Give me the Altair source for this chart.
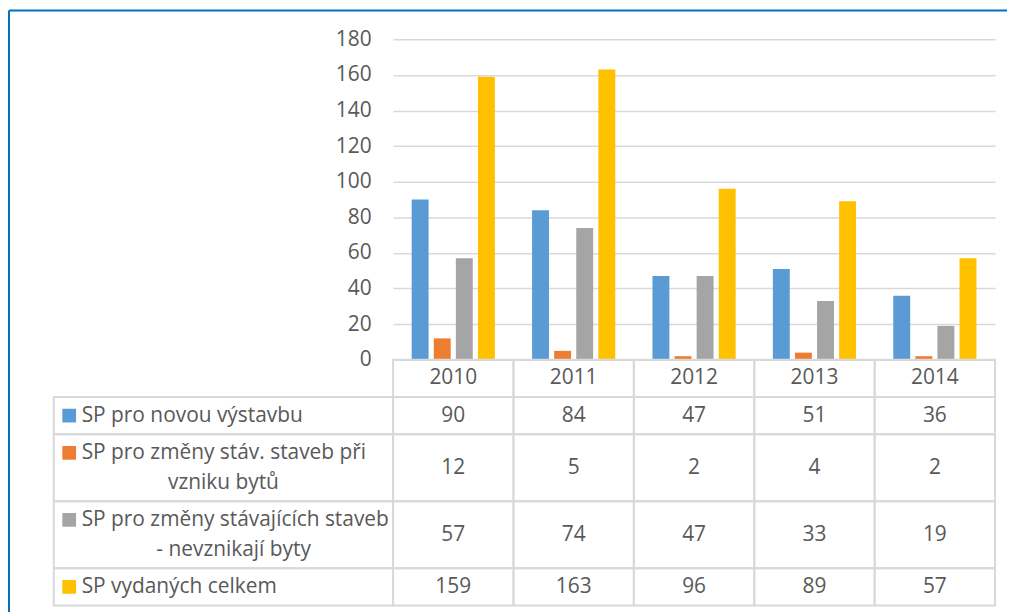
import altair as alt
import pandas as pd

# ---- data ----
years = ["2010", "2011", "2012", "2013", "2014"]
series_names = [
    "SP pro novou výstavbu",
    "SP pro změny stáv. staveb při vzniku bytů",
    "SP pro změny stávajících staveb - nevznikají byty",
    "SP vydaných celkem",
]
label_lines = [
    ["SP pro novou výstavbu"],
    ["SP pro změny stáv. staveb při", "vzniku bytů"],
    ["SP pro změny stávajících staveb", "- nevznikají byty"],
    ["SP vydaných celkem"],
]
nova_vystavba = [90, 84, 47, 51, 36]
zmeny_s_byty = [12, 5, 2, 4, 2]
zmeny_bez_bytu = [57, 74, 47, 33, 19]
celkem = [159, 163, 96, 89, 57]
y_ticks = [0, 20, 40, 60, 80, 100, 120, 140, 160, 180]
colors = ["#5B9BD5", "#ED7D31", "#A5A5A5", "#FFC000"]

series_values = [nova_vystavba, zmeny_s_byty, zmeny_bez_bytu, celkem]

# ---- layout constants ----
W, H = 605, 322          # bar plot area
TABLE_H = 247            # data table height below the plot
LABEL_W = 341            # width of the table's label column
ROW_UNITS = [1, 1, 1.8, 1.8, 1]   # header + 4 series rows
LINE_GAP = 0.4           # half distance between wrapped lines, in row units
TEXT_COLOR = "#595959"
GRID_COLOR = "#D9D9D9"
FONT = "Open Sans"
FS = 21

bounds = [0]
for u in ROW_UNITS:
    bounds.append(bounds[-1] + u)
TOTAL_UNITS = bounds[-1]

# ---- frames ----
bars_df = pd.DataFrame(
    [
        {"year": y, "series": s, "value": vals[i]}
        for s, vals in zip(series_names, series_values)
        for i, y in enumerate(years)
    ]
)

cells_df = pd.DataFrame(
    [
        {"year": y, "top": bounds[r], "bot": bounds[r + 1]}
        for y in years
        for r in range(len(ROW_UNITS))
    ]
)

header_df = pd.DataFrame(
    [{"year": y, "ymid": (bounds[0] + bounds[1]) / 2} for y in years]
)

values_df = pd.DataFrame(
    [
        {"year": y, "label": str(vals[i]), "ymid": (bounds[k + 1] + bounds[k + 2]) / 2}
        for k, vals in enumerate(series_values)
        for i, y in enumerate(years)
    ]
)

# label column: x measured in column fractions (0 = left edge, 1 = right edge)
label_cells_df = pd.DataFrame(
    [{"c0": 0, "c1": 1, "top": bounds[k + 1], "bot": bounds[k + 2]} for k in range(4)]
)

# wrapped second lines are centred under the first line
SECOND_LINE_CENTER = {1: 0.5, 2: 0.53}

first_lines, second_lines = [], []
for k, (name, lines) in enumerate(zip(series_names, label_lines)):
    mid = (bounds[k + 1] + bounds[k + 2]) / 2
    if len(lines) == 1:
        first_lines.append({"c0": 0, "series": name, "text": lines[0], "yl": mid})
    else:
        first_lines.append({"c0": 0, "series": name, "text": lines[0], "yl": mid - LINE_GAP})
        second_lines.append({"c0": SECOND_LINE_CENTER[k], "series": name,
                             "text": lines[1], "yl": mid + LINE_GAP})
first_df = pd.DataFrame(first_lines)
second_df = pd.DataFrame(second_lines)

# ---- scales ----
x_years = alt.X(
    "year:N",
    scale=alt.Scale(domain=years, paddingInner=0, paddingOuter=0),
    axis=None,
)


def y_table(f):
    return alt.Y(
        f,
        scale=alt.Scale(domain=[0, TOTAL_UNITS], range=[H, H + TABLE_H], nice=False, zero=False),
        axis=None,
    )


def x_label(f):
    return alt.X(
        f,
        scale=alt.Scale(domain=[0, 1], range=[-LABEL_W, 0], nice=False, zero=False),
        axis=None,
    )


color_enc = alt.Color(
    "series:N", scale=alt.Scale(domain=series_names, range=colors), legend=None
)

# ---- layers ----
bars = alt.Chart(bars_df).mark_bar().encode(
    x=x_years,
    xOffset=alt.XOffset(
        "series:N",
        scale=alt.Scale(domain=series_names, paddingInner=0.234, paddingOuter=0.842),
    ),
    y=alt.Y(
        "value:Q",
        scale=alt.Scale(domain=[0, 180], nice=False),
        axis=alt.Axis(
            values=y_ticks,
            grid=True,
            ticks=False,
            domain=False,
            labelPadding=22,
            title=None,
        ),
    ),
    color=color_enc,
)

cells = alt.Chart(cells_df).mark_rect(
    fill="white", fillOpacity=0, stroke=GRID_COLOR, strokeWidth=2
).encode(x=x_years, y=y_table("top:Q"), y2="bot:Q")

label_cells = alt.Chart(label_cells_df).mark_rect(
    fill="white", fillOpacity=0, stroke=GRID_COLOR, strokeWidth=2
).encode(x=x_label("c0:Q"), x2="c1:Q", y=y_table("top:Q"), y2="bot:Q")

header_text = alt.Chart(header_df).mark_text(
    font=FONT, fontSize=FS, color=TEXT_COLOR, baseline="middle"
).encode(x=x_years, y=y_table("ymid:Q"), text="year:N")

value_text = alt.Chart(values_df).mark_text(
    font=FONT, fontSize=FS, color=TEXT_COLOR, baseline="middle"
).encode(x=x_years, y=y_table("ymid:Q"), text="label:N")

squares = alt.Chart(first_df).mark_square(size=190, opacity=1, xOffset=15.5).encode(
    x=x_label("c0:Q"),
    y=y_table("yl:Q"),
    color=color_enc,
)

first_text = alt.Chart(first_df).mark_text(
    font=FONT, fontSize=FS, color=TEXT_COLOR, baseline="middle", align="left", dx=28
).encode(x=x_label("c0:Q"), y=y_table("yl:Q"), text="text:N")

second_text = alt.Chart(second_df).mark_text(
    font=FONT, fontSize=FS, color=TEXT_COLOR, baseline="middle", align="center"
).encode(x=x_label("c0:Q"), y=y_table("yl:Q"), text="text:N")

# selection frame of the embedded chart (decoration)
frame_df = pd.DataFrame({"k": [0]})
frame_left = alt.Chart(frame_df).mark_rule(color="#0070C0", strokeWidth=2).encode(
    x=alt.value(-386), y=alt.value(-29), y2=alt.value(H + TABLE_H + 30)
)
frame_top = alt.Chart(frame_df).mark_rule(color="#0070C0", strokeWidth=2).encode(
    x=alt.value(-386), x2=alt.value(W + 12), y=alt.value(-29)
)

chart = (
    alt.layer(
        bars, cells, label_cells, header_text, value_text,
        squares, first_text, second_text, frame_left, frame_top,
    )
    .resolve_scale(x="independent", y="independent")
    .resolve_axis(x="independent", y="independent")
    .properties(
        width=W,
        height=H,
        autosize=alt.AutoSizeParams(type="none"),
        padding={"left": 387, "top": 30, "right": 12, "bottom": 252},
    )
    .configure(font=FONT)
    .configure_view(stroke=None)
    .configure_axis(
        labelFont=FONT,
        labelFontSize=FS,
        labelColor=TEXT_COLOR,
        gridColor=GRID_COLOR,
        gridWidth=1.5,
    )
)

chart.save("out.html", embed_options={"renderer": "svg", "actions": False})
